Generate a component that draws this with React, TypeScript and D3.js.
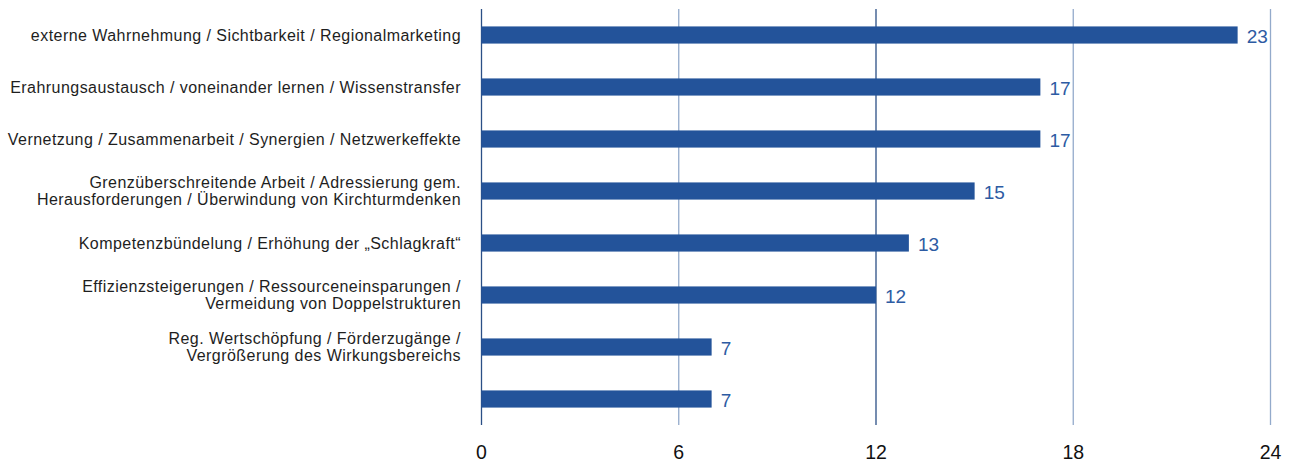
import React from "react";
import * as d3 from "d3";

const categories: string[][] = [
  ["externe Wahrnehmung / Sichtbarkeit / Regionalmarketing"],
  ["Erahrungsaustausch / voneinander lernen / Wissenstransfer"],
  ["Vernetzung / Zusammenarbeit / Synergien / Netzwerkeffekte"],
  ["Grenzüberschreitende Arbeit / Adressierung gem.", "Herausforderungen / Überwindung von Kirchturmdenken"],
  ["Kompetenzbündelung / Erhöhung der „Schlagkraft“"],
  ["Effizienzsteigerungen / Ressourceneinsparungen /", "Vermeidung von Doppelstrukturen"],
  ["Reg. Wertschöpfung / Förderzugänge /", "Vergrößerung des Wirkungsbereichs"],
  [""],
];
const values: number[] = [23, 17, 17, 15, 13, 12, 7, 7];
const ticks: number[] = [0, 6, 12, 18, 24];

const W = 1290;
const H = 463;
const left = 481.5;
const right = 1270.5;
const top = 9;
const bottom = 425;

export default function App() {
  const x = d3.scaleLinear().domain([0, 24]).range([left, right]);
  const y = d3
    .scaleBand<number>()
    .domain(d3.range(values.length))
    .range([top, bottom])
    .paddingInner(0.67)
    .paddingOuter(0.335);
  const barColor = "#23539a";
  const font = "'Liberation Sans', Arial, sans-serif";
  return (
    <svg width={W} height={H} style={{ position: "absolute", left: 0, top: 0 }} fontFamily={font}>
      {ticks.map((t, i) => (
        <line
          key={"g" + t}
          x1={x(t)}
          x2={x(t)}
          y1={top}
          y2={bottom}
          stroke={i === 0 || i === 2 ? "#2b4f86" : "#93aacb"}
          strokeWidth={1.3}
        />
      ))}
      {values.map((v, i) => {
        const yy = y(i)!;
        const bh = y.bandwidth();
        const cy = yy + bh / 2;
        const lines = categories[i];
        const lh = 17.5;
        return (
          <g key={i}>
            <rect x={x(0)} y={yy} width={x(v) - x(0)} height={bh} fill={barColor} />
            <text x={x(v) + 9} y={cy + 7.5} fontSize={19} fill="#2d5ba3">
              {v}
            </text>
            <text textAnchor="end" fontSize={16} letterSpacing={0.45} fill="#1e1e1e">
              {lines.map((l, j) => (
                <tspan key={j} x={461} y={cy + 5.5 + (j - (lines.length - 1) / 2) * lh}>
                  {l}
                </tspan>
              ))}
            </text>
          </g>
        );
      })}
      {ticks.map((t) => (
        <text key={"t" + t} x={x(t)} y={459} textAnchor="middle" fontSize={19.5} fill="#111">
          {t}
        </text>
      ))}
    </svg>
  );
}
